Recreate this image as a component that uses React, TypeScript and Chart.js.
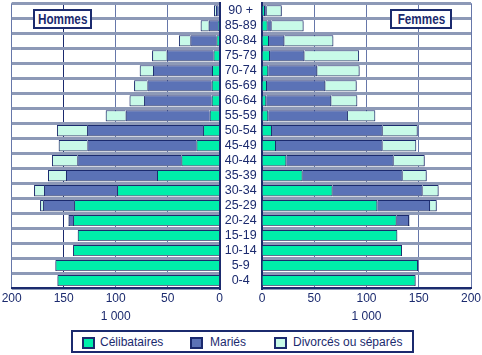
import React, { useEffect, useRef } from 'react';
import { Chart, registerables } from 'chart.js';
Chart.register(...registerables);

// Age groups, bottom to top
const AGES = ['0-4', '5-9', '10-14', '15-19', '20-24', '25-29', '30-34', '35-39', '40-44', '45-49', '50-54', '55-59', '60-64', '65-69', '70-74', '75-79', '80-84', '85-89', '90 +'];
const SERIES = ['Célibataires', 'Mariés', 'Divorcés ou séparés'];
const PANEL_TITLES = ['Hommes', 'Femmes'];
const X_TICKS = [0, 50, 100, 150, 200];
const X_UNIT = '1 000';

// Hommes (thousands)
const MEN_SINGLE = [156, 158, 141, 136.5, 141, 140, 98.7, 60.3, 36.9, 22.4, 16, 9.6, 7.7, 7.7, 7.4, 6, 3.2, 1.6, 1];
const MEN_MARRIED = [0, 0, 0, 0, 4.2, 29.8, 70.2, 87.5, 100, 104.8, 111.5, 80.8, 65, 61.8, 56.7, 45, 25, 9, 2.5];
const MEN_DIVORCED = [0, 0, 0, 0, 0.5, 2.9, 9.6, 17.3, 24.4, 27.6, 29, 19.2, 14, 12.8, 12.8, 14, 11, 7.7, 2];

// Femmes (thousands)
const WOMEN_SINGLE = [147, 149.3, 134, 129.5, 128.9, 110.4, 67.6, 38.9, 23.3, 13.4, 9.6, 6, 4.1, 4.8, 6, 7.7, 6.7, 5.4, 2.9];
const WOMEN_MARRIED = [0, 0, 0, 0, 11.8, 50.4, 86.1, 95.7, 102.7, 102, 105.9, 76.2, 62.2, 55.8, 46.9, 32.9, 14.7, 3.8, 1.6];
const WOMEN_DIVORCED = [0, 0, 0, 0, 0.5, 6.4, 15.3, 23, 29.7, 32.2, 33.5, 26.2, 24.9, 30, 40.5, 52.3, 46.9, 30.6, 14.4];

const NAVY = '#1b2a6e';
const COLORS = ['#00eeaa', '#5b72b6', '#c8fae8'];
const ROW_GRID = '#8d99b7';
const COL_GRID = '#6677aa';
const FONT = 'Liberation Sans, Arial, sans-serif';

const shadowPlugin = {
  id: 'barShadow',
  beforeDatasetsDraw(chart: any) {
    const ctx = chart.ctx;
    ctx.save();
    ctx.shadowColor = 'rgba(110,120,150,0.9)';
    ctx.shadowOffsetX = 0;
    ctx.shadowOffsetY = 1.5;
    ctx.shadowBlur = 0;
  },
  afterDatasetsDraw(chart: any) {
    chart.ctx.restore();
  },
};

function makeConfig(values: number[][], left: boolean): any {
  return {
    type: 'bar',
    data: {
      labels: AGES,
      datasets: SERIES.map((name, i) => ({
        label: name,
        data: values[i].map((v) => (v === 0 ? null : v)),
        backgroundColor: COLORS[i],
        borderColor: NAVY,
        borderWidth: 1,
        barPercentage: 0.74,
        categoryPercentage: 1,
      })),
    },
    plugins: [shadowPlugin],
    options: {
      indexAxis: 'y',
      animation: false,
      responsive: false,
      events: [],
      layout: {
        padding: left ? { left: 11.7, top: 3.3, right: 0, bottom: 0 } : { left: 0, top: 3.3, right: 11, bottom: 0 },
      },
      plugins: { legend: { display: false }, tooltip: { enabled: false } },
      scales: {
        x: {
          type: 'linear',
          stacked: true,
          min: 0,
          max: 200,
          reverse: left,
          afterBuildTicks: (s: any) => {
            s.ticks = X_TICKS.map((v) => ({ value: v }));
          },
          afterFit: (s: any) => {
            s.height = 37;
            s.paddingLeft = 0;
            s.paddingRight = 0;
          },
          ticks: { color: NAVY, font: { family: FONT, size: 12 }, padding: 3, maxRotation: 0, autoSkip: false },
          grid: {
            drawTicks: false,
            lineWidth: 1,
            color: (ctx: any) => (left && ctx.tick && ctx.tick.value === 150 ? NAVY : COL_GRID),
          },
          border: { color: NAVY, width: 2 },
          title: { display: true, text: X_UNIT, color: NAVY, font: { family: FONT, size: 12 }, padding: { top: 0, bottom: 1 } },
        },
        y: {
          stacked: true,
          reverse: true,
          position: left ? 'right' : 'left',
          afterFit: (s: any) => {
            s.width = left ? 42.3 : 21;
            s.paddingTop = 0;
            s.paddingBottom = 0;
          },
          ticks: {
            display: left,
            autoSkip: false,
            color: NAVY,
            font: { family: FONT, size: 12.5 },
            crossAlign: 'center',
            padding: 5,
          },
          grid: { color: ROW_GRID, lineWidth: 3, drawTicks: false },
          border: { color: NAVY, width: 2 },
        },
      },
    },
  };
}

function Panel({ values, left, style }: { values: number[][]; left: boolean; style: any }) {
  const ref = useRef<HTMLCanvasElement>(null);
  useEffect(() => {
    if (!ref.current) return;
    const chart = new Chart(ref.current, makeConfig(values, left));
    return () => chart.destroy();
  }, []);
  return <canvas ref={ref} width={style.width} height={style.height} style={{ position: 'absolute', ...style }} />;
}

const titleBox = (text: string, leftPx: number, width: number) => (
  <div
    style={{
      position: 'absolute',
      left: leftPx,
      top: 9,
      width,
      height: 19.5,
      boxSizing: 'border-box',
      border: `2px solid ${NAVY}`,
      background: '#fff',
      color: NAVY,
      display: 'flex',
      alignItems: 'center',
      justifyContent: 'center',
      overflow: 'visible',
    }}
  >
    <span
      style={{
        display: 'inline-block',
        font: `bold 15px ${FONT}`,
        lineHeight: '15px',
        transform: 'scaleX(0.78)',
        whiteSpace: 'nowrap',
      }}
    >
      {text}
    </span>
  </div>
);

const LEGEND_SQUARES = [82, 190, 274];
const LEGEND_TEXTS = [100, 210, 293];

export default function App() {
  return (
    <div style={{ position: 'absolute', left: 0, top: 0, width: 482, height: 355, background: '#fff', overflow: 'hidden' }}>
      <Panel values={[MEN_SINGLE, MEN_MARRIED, MEN_DIVORCED]} left={true} style={{ left: 0, top: 0, width: 262, height: 325 }} />
      <Panel values={[WOMEN_SINGLE, WOMEN_MARRIED, WOMEN_DIVORCED]} left={false} style={{ left: 241, top: 0, width: 241, height: 325 }} />
      {titleBox(PANEL_TITLES[0], 33, 59)}
      {titleBox(PANEL_TITLES[1], 390, 62)}
      <div
        style={{
          position: 'absolute',
          left: 70.5,
          top: 330,
          width: 343,
          height: 23,
          boxSizing: 'border-box',
          border: `2px solid ${NAVY}`,
          background: '#fff',
        }}
      />
      {SERIES.map((name, i) => (
        <React.Fragment key={name}>
          <div
            style={{
              position: 'absolute',
              left: LEGEND_SQUARES[i],
              top: 337,
              width: 13,
              height: 12,
              boxSizing: 'border-box',
              border: `2px solid ${NAVY}`,
              background: COLORS[i],
            }}
          />
          <span
            style={{
              position: 'absolute',
              left: LEGEND_TEXTS[i],
              top: 334.7,
              font: `12px ${FONT}`,
              lineHeight: '14px',
              color: NAVY,
              whiteSpace: 'nowrap',
            }}
          >
            {name}
          </span>
        </React.Fragment>
      ))}
    </div>
  );
}
